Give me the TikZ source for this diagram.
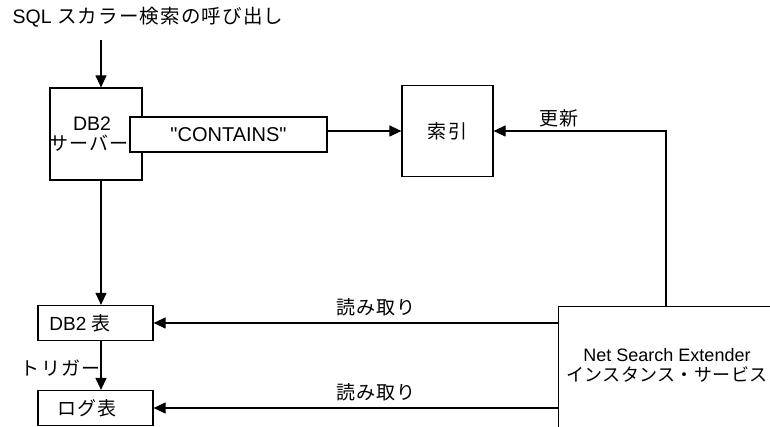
\documentclass[tikz,border=0pt]{standalone}
\usepackage{fontspec}
\setmainfont{Liberation Sans}[Ligatures=TeXOff]
\newfontfamily\jp{Noto Sans CJK JP}[LetterSpace=6]
\newfontfamily\jpnarrow{Noto Sans CJK JP}[LetterSpace=2]
\usetikzlibrary{arrows.meta, positioning}

\tikzset{
  box/.style={draw, line width=1.2pt, fill=white, inner sep=0pt},
  arr/.style={-{Triangle[length=12pt,width=11pt]}, line width=1.2pt},
}

\begin{document}
\begin{tikzpicture}[x=1pt, y=-1pt, font=\fontsize{19}{20}\selectfont, line width=1.2pt]
        \useasboundingbox (0,0) rectangle (770,427);
        \clip (0,0) rectangle (770,427);

        \node[anchor=west, inner sep=0pt, font=\fontsize{19.5}{20}\selectfont] (title) at (12,17) {SQL {\jp スカラー検索の呼び出し}};
        \coordinate (callin) at (101,40);
        \coordinate (spine) at (101,0);

        % server and its request
        \node[box, minimum width=92pt, minimum height=92pt] (server) at (96,134) {};
        \node[inner sep=0pt, font=\fontsize{19.5}{20}\selectfont] (servername) at (92,124) {DB2};
        \node[inner sep=0pt] (serverrole) at (89,143) {\jp サーバー};
        \node[box, minimum width=197pt, minimum height=35pt, font=\fontsize{20}{20}\selectfont] (contains) at (228.5,134.5) {"CONTAINS"};
        \node[box, minimum width=91pt, minimum height=91pt] (index) at (447.5,131) {\jp 索引};

        % tables
        \node[box, minimum width=115pt, minimum height=35pt] (dbtable) at (95.5,323) {};
        \node[inner sep=0pt] (dbtablelabel) at (80,323) {DB2 {\jp 表}};
        \node[box, minimum width=115pt, minimum height=35pt] (logtable) at (95.5,408) {};
        \node[inner sep=0pt] (logtablelabel) at (87,408) {\jp ログ表};

        % instance services, cut by the border
        \node[box, anchor=north west, minimum width=240pt, minimum height=160pt] (nse) at (558,306) {};
        \node[align=center, inner sep=0pt, font=\fontsize{18}{20}\selectfont] (nselabel) at (667,365) {Net Search Extender\\{\jpnarrow インスタンス・サービス}};
        \coordinate (nsetap) at (666,306);

        \draw[arr] (callin) -- (server.north -| spine);
        \draw[arr] (contains.east |- index.west) -- (index.west);
        \draw[arr] (nsetap) |- (index.east) node[pos=0.81, above] {\jp 更新};
        \draw[arr] (server.south -| spine) -- (dbtable.north -| spine);
        \draw[arr] (nse.west |- dbtable.east) -- (dbtable.east) node[pos=0.45, above=3pt] {\jp 読み取り};
        \draw[arr] (dbtable.south -| spine) -- (logtable.north -| spine) node[pos=0.56, left, inner sep=0pt] {\jp トリガー};
        \draw[arr] (nse.west |- logtable.east) -- (logtable.east) node[pos=0.45, above=3pt] {\jp 読み取り};

\end{tikzpicture}
\end{document}
